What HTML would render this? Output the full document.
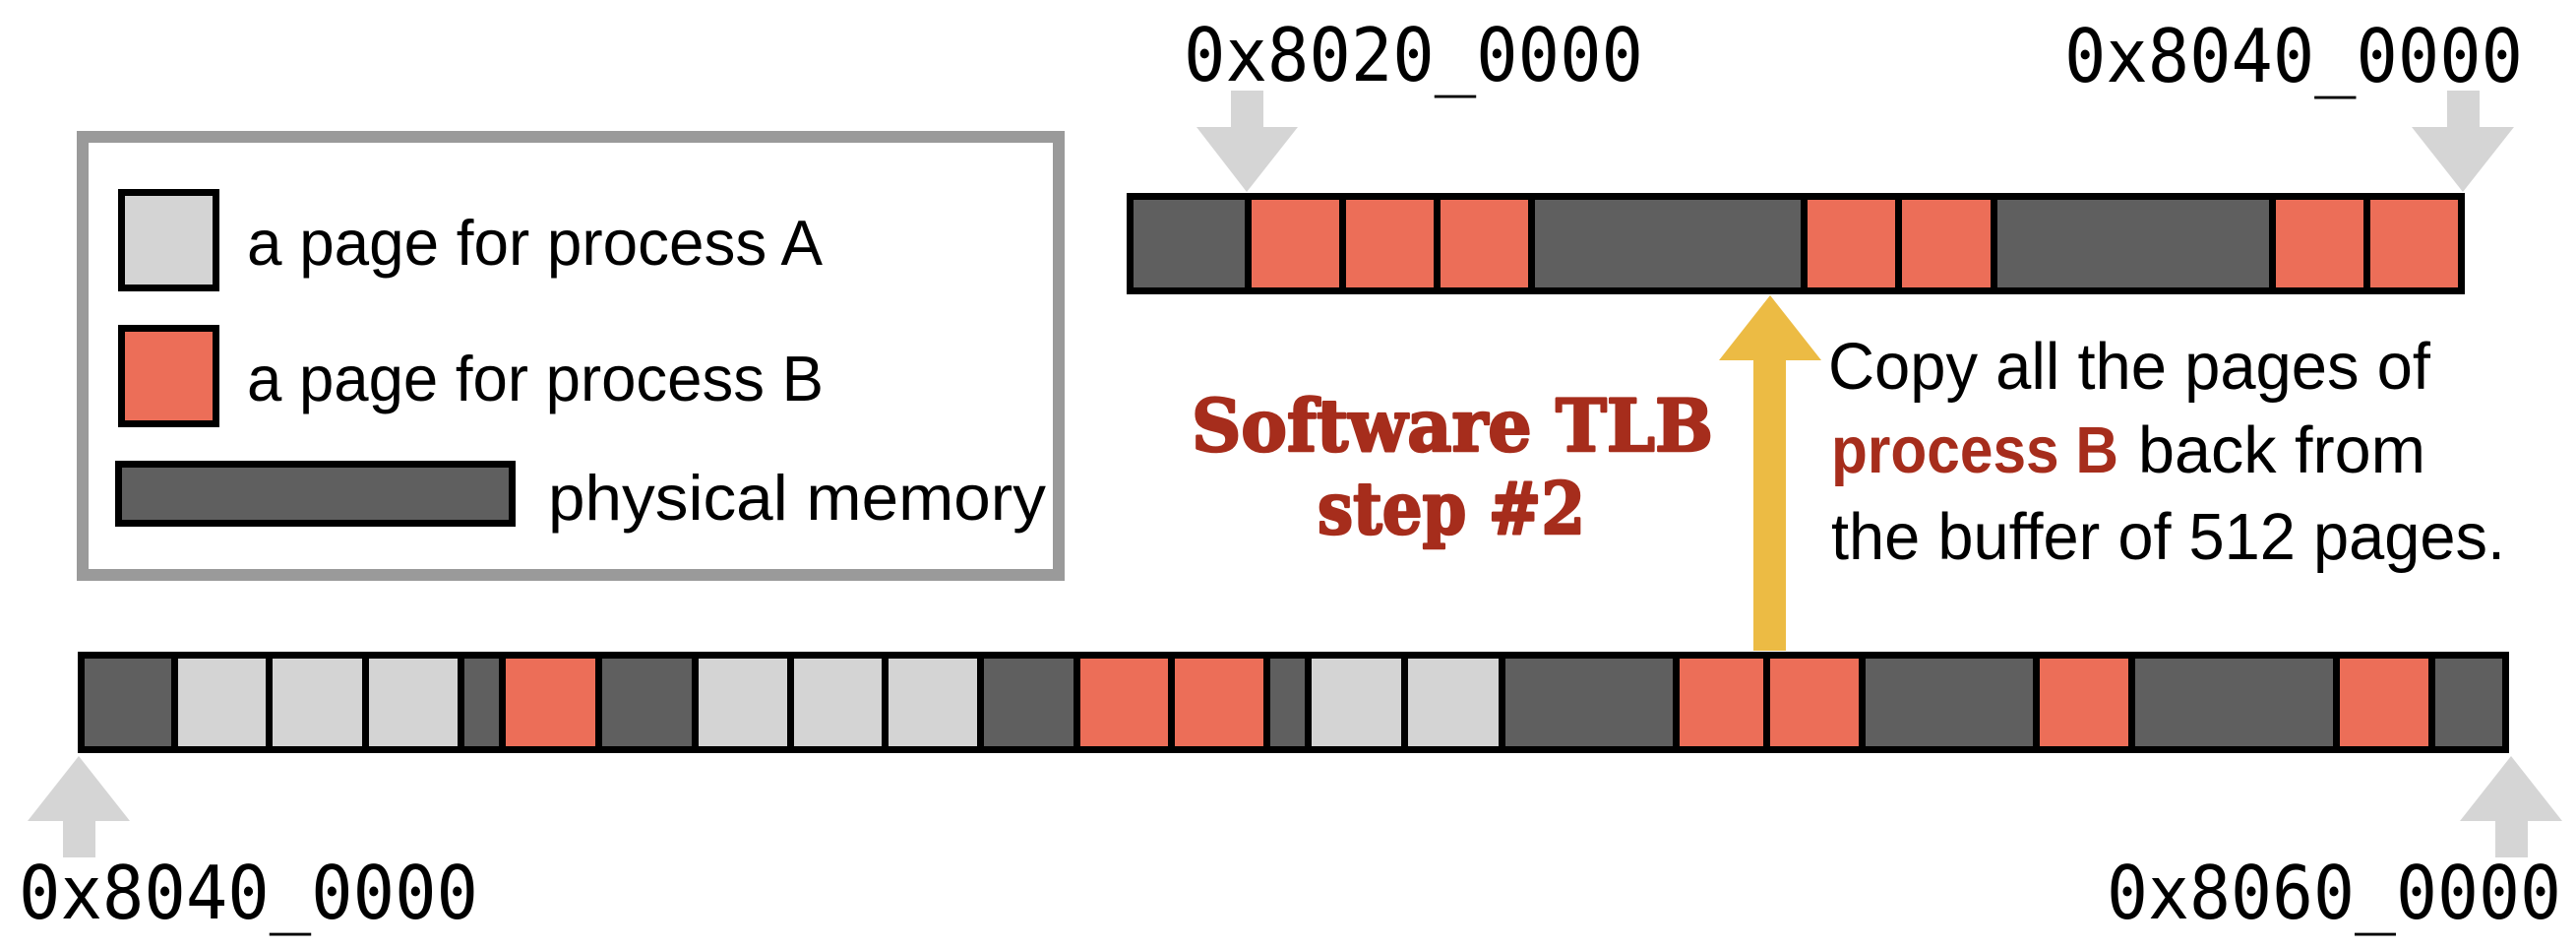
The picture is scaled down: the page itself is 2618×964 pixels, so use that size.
<!DOCTYPE html>
<html>
<head>
<meta charset="utf-8">
<style>
  html, body { margin:0; padding:0; background:#ffffff; }
  body { width:2618px; height:964px; overflow:hidden; }
  svg { display:block; }
</style>
</head>
<body>
<svg xmlns="http://www.w3.org/2000/svg" width="2618" height="964" viewBox="0 0 2618 964">
  <rect x="0" y="0" width="2618" height="964" fill="#ffffff"/>

  <!-- Legend box -->
  <rect x="84" y="139" width="992" height="445" fill="#ffffff" stroke="#9a9a9a" stroke-width="12"/>

  <!-- Legend items -->
  <rect x="123.5" y="195.5" width="96" height="97" fill="#d4d4d4" stroke="#000" stroke-width="7"/>
  <rect x="123.5" y="333.5" width="96" height="97" fill="#ec6e58" stroke="#000" stroke-width="7"/>
  <rect x="120.5" y="471.5" width="400" height="60" fill="#5f5f5f" stroke="#000" stroke-width="7"/>

  <g font-family="'Liberation Sans', 'DejaVu Sans', sans-serif" font-size="65" fill="#000">
    <text x="251" y="269" textLength="585" lengthAdjust="spacingAndGlyphs">a page for process A</text>
    <text x="251" y="407" textLength="586" lengthAdjust="spacingAndGlyphs">a page for process B</text>
    <text x="557" y="528" textLength="506" lengthAdjust="spacingAndGlyphs">physical memory</text>
  </g>

  <!-- Address labels -->
  <g font-family="'DejaVu Sans Mono', 'Liberation Mono', monospace" font-size="75" fill="#000">
    <text x="1203" y="82" textLength="467" lengthAdjust="spacingAndGlyphs">0x8020_0000</text>
    <text x="2098" y="83" textLength="466" lengthAdjust="spacingAndGlyphs">0x8040_0000</text>
    <text x="19" y="933" textLength="467" lengthAdjust="spacingAndGlyphs">0x8040_0000</text>
    <text x="2141" y="933" textLength="462" lengthAdjust="spacingAndGlyphs">0x8060_0000</text>
  </g>

  <!-- Top gray arrows (down) -->
  <g fill="#d5d5d5">
    <rect x="1251" y="92" width="33" height="38"/>
    <polygon points="1216,129 1319,129 1267,195"/>
    <rect x="2487" y="92" width="33" height="38"/>
    <polygon points="2451,129 2555,129 2503,195"/>
  </g>

  <!-- Top bar -->
  <rect x="1145" y="196" width="1360" height="103" fill="#000"/>
  <g>
    <rect x="1152" y="203" width="113" height="89" fill="#5f5f5f"/>
    <rect x="1272" y="203" width="89" height="89" fill="#ec6e58"/>
    <rect x="1368" y="203" width="89" height="89" fill="#ec6e58"/>
    <rect x="1464" y="203" width="89" height="89" fill="#ec6e58"/>
    <rect x="1560" y="203" width="270" height="89" fill="#5f5f5f"/>
    <rect x="1837" y="203" width="89" height="89" fill="#ec6e58"/>
    <rect x="1933" y="203" width="90" height="89" fill="#ec6e58"/>
    <rect x="2030" y="203" width="276" height="89" fill="#5f5f5f"/>
    <rect x="2313" y="203" width="89" height="89" fill="#ec6e58"/>
    <rect x="2409" y="203" width="89" height="89" fill="#ec6e58"/>
  </g>

  <!-- Yellow arrow (up) -->
  <g fill="#ecbb44">
    <rect x="1782" y="364" width="33" height="297"/>
    <polygon points="1747,366 1851,366 1799,300"/>
  </g>

  <!-- Software TLB step #2 -->
  <g font-family="'DejaVu Serif', 'Liberation Serif', serif" font-weight="bold" font-size="73" fill="#a62d1c" stroke="#a62d1c" stroke-width="2.5" stroke-linejoin="round">
    <text x="1211" y="458" textLength="530" lengthAdjust="spacingAndGlyphs">Software TLB</text>
    <text x="1339" y="542" textLength="272" lengthAdjust="spacingAndGlyphs">step #2</text>
  </g>

  <!-- Right description -->
  <g font-family="'Liberation Sans', 'DejaVu Sans', sans-serif" font-size="67" fill="#000">
    <text x="1858" y="395" textLength="612" lengthAdjust="spacingAndGlyphs">Copy all the pages of</text>
    <text x="1861" y="480" textLength="292" lengthAdjust="spacingAndGlyphs" font-weight="bold" fill="#a62d1c">process B</text>
    <text x="2173" y="480" textLength="292" lengthAdjust="spacingAndGlyphs">back from</text>
    <text x="1861" y="568" textLength="685" lengthAdjust="spacingAndGlyphs">the buffer of 512 pages.</text>
  </g>

  <!-- Bottom bar -->
  <rect x="79" y="662" width="2471" height="103" fill="#000"/>
  <g>
    <rect x="86" y="669" width="88" height="89" fill="#5f5f5f"/>
    <rect x="181" y="669" width="89" height="89" fill="#d4d4d4"/>
    <rect x="277" y="669" width="91" height="89" fill="#d4d4d4"/>
    <rect x="375" y="669" width="90" height="89" fill="#d4d4d4"/>
    <rect x="472" y="669" width="35" height="89" fill="#5f5f5f"/>
    <rect x="514" y="669" width="91" height="89" fill="#ec6e58"/>
    <rect x="612" y="669" width="91" height="89" fill="#5f5f5f"/>
    <rect x="710" y="669" width="90" height="89" fill="#d4d4d4"/>
    <rect x="807" y="669" width="89" height="89" fill="#d4d4d4"/>
    <rect x="903" y="669" width="90" height="89" fill="#d4d4d4"/>
    <rect x="1000" y="669" width="91" height="89" fill="#5f5f5f"/>
    <rect x="1098" y="669" width="89" height="89" fill="#ec6e58"/>
    <rect x="1194" y="669" width="90" height="89" fill="#ec6e58"/>
    <rect x="1291" y="669" width="35" height="89" fill="#5f5f5f"/>
    <rect x="1333" y="669" width="91" height="89" fill="#d4d4d4"/>
    <rect x="1431" y="669" width="92" height="89" fill="#d4d4d4"/>
    <rect x="1530" y="669" width="170" height="89" fill="#5f5f5f"/>
    <rect x="1707" y="669" width="85" height="89" fill="#ec6e58"/>
    <rect x="1799" y="669" width="90" height="89" fill="#ec6e58"/>
    <rect x="1896" y="669" width="170" height="89" fill="#5f5f5f"/>
    <rect x="2073" y="669" width="90" height="89" fill="#ec6e58"/>
    <rect x="2170" y="669" width="201" height="89" fill="#5f5f5f"/>
    <rect x="2378" y="669" width="90" height="89" fill="#ec6e58"/>
    <rect x="2475" y="669" width="68" height="89" fill="#5f5f5f"/>
  </g>

  <!-- Bottom gray arrows (up) -->
  <g fill="#d5d5d5">
    <polygon points="28,834 132,834 80,768"/>
    <rect x="64" y="832" width="33" height="39"/>
    <polygon points="2500,834 2604,834 2552,768"/>
    <rect x="2536" y="832" width="33" height="39"/>
  </g>
</svg>
</body>
</html>
